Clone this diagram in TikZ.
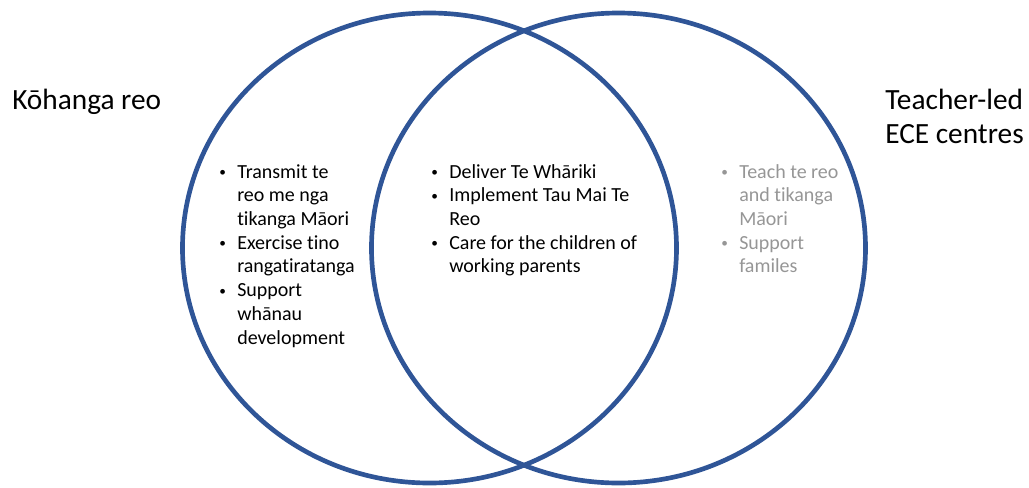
\documentclass[tikz,border=0pt]{standalone}
\usepackage{fontspec}
\setmainfont{Carlito}[Ligatures=NoCommon]
\usepackage{tikz}

\definecolor{vennblue}{RGB}{47,85,151}
\definecolor{softgray}{RGB}{150,150,150}

% bullet and hanging indent for the lists
\newlength{\unitpx}
\setlength{\unitpx}{0.75pt}
\newcommand{\bul}{\makebox[18\unitpx][l]{\raisebox{1.2pt}{\fontsize{10}{0}\selectfont\textbullet}}}
\newcommand{\hng}{\hspace*{18\unitpx}}

\begin{document}
\begin{tikzpicture}[x=0.75pt,y=-0.75pt,
    ring/.style={draw=vennblue,line width=3.5pt},
    title/.style={anchor=base west,inner sep=0pt,align=left,
        font=\fontsize{22}{25.5}\selectfont},
    list/.style={anchor=base west,inner sep=0pt,
        font=\fontsize{15}{17.8}\selectfont}]
    \useasboundingbox (0,0) rectangle (1029,487);
    \draw[ring] (429.5,248) ellipse [x radius=247,y radius=235];   % left set
    \draw[ring] (618.5,248) ellipse [x radius=247,y radius=235];   % right set
    % set titles
    \node[title] (kohanga) at (12,109) {Kōhanga reo};
    \node[title] (teacherled) at (885,143) {Teacher-led\\ECE centres}; % base = last line
    % left only
    \node[list] (kohangalist) at (219,178) {\parbox[t]{160pt}{%
        \bul Transmit te\\ \hng reo me nga\\ \hng tikanga Māori\\
        \bul Exercise tino\\ \hng rangatiratanga\\
        \bul Support\\ \hng whānau\\ \hng development}};
    % overlap
    \node[list] (sharedlist) at (431,178) {\parbox[t]{200pt}{%
        \bul Deliver Te Whāriki\\
        \bul Implement Tau Mai Te\\ \hng Reo\\
        \bul Care for the children of\\ \hng working parents}};
    % right only
    \node[list,text=softgray] (ecelist) at (721,178) {\parbox[t]{160pt}{%
        \bul Teach te reo\\ \hng and tikanga\\ \hng Māori\\
        \bul Support\\ \hng familes}};
\end{tikzpicture}
\end{document}
